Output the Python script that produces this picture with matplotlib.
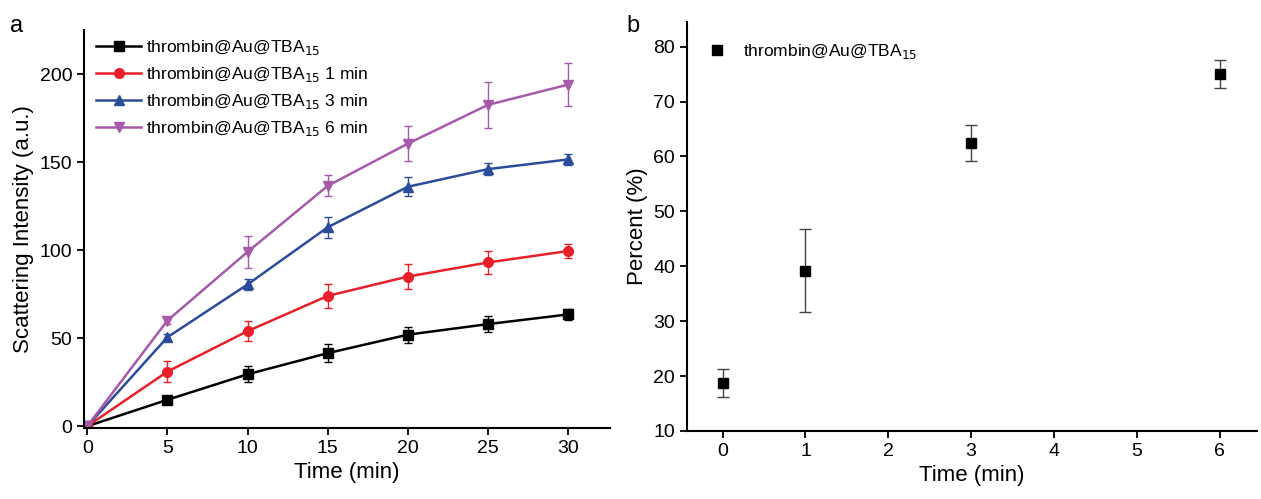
import matplotlib
matplotlib.use("Agg")
import matplotlib.pyplot as plt

plt.rcParams['font.family'] = ['Liberation Sans', 'DejaVu Sans']

# panel a data
time_a = [0, 5, 10, 15, 20, 25, 30]
black_y = [0, 15, 29.5, 41.5, 52, 58, 63.5]
black_err = [0, 2, 4.5, 5, 4.5, 4.5, 3]
red_y = [0, 31, 54, 74, 85, 93, 99.5]
red_err = [0, 6, 5.5, 7, 7, 6.5, 4]
blue_y = [0, 50.5, 80.5, 113, 136, 146, 151.5]
blue_err = [0, 2, 3, 6, 5.5, 3.5, 3]
purple_y = [0, 60, 99, 136.5, 160.5, 182.5, 194]
purple_err = [0, 2, 9, 6, 10, 13, 12]

# panel b data
time_b = [0, 1, 3, 6]
percent = [18.7, 39.2, 62.5, 75]
percent_err = [2.5, 7.5, 3.3, 2.5]

label = r'thrombin@Au@TBA$_{15}$'

fig = plt.figure(figsize=(12.61, 4.99), dpi=100)
ax1 = fig.add_axes([0.0666, 0.1423, 0.4171, 0.7976])
ax2 = fig.add_axes([0.5448, 0.1363, 0.452, 0.8197])

series = [
    (black_y, black_err, '#000000', 's', label),
    (red_y, red_err, '#e8202a', 'o', label + ' 1 min'),
    (blue_y, blue_err, '#2b4c9b', '^', label + ' 3 min'),
    (purple_y, purple_err, '#a75aaa', 'v', label + ' 6 min'),
]
for y, e, c, m, lab in series:
    ax1.errorbar(time_a, y, yerr=e, color=c, marker=m, markersize=7, lw=1.8,
                 ecolor=c, elinewidth=1, capsize=3, label=lab)

ax1.set_xlim(-0.2, 32.6)
ax1.set_ylim(-1, 225)
ax1.set_xticks([0, 5, 10, 15, 20, 25, 30])
ax1.set_yticks([0, 50, 100, 150, 200])
ax1.set_xlabel('Time (min)', fontsize=16)
ax1.set_ylabel('Scattering Intensity (a.u.)', fontsize=16)
handles, labels = ax1.get_legend_handles_labels()
ax1.legend([h[0] for h in handles], labels, loc='upper left', frameon=False,
           fontsize=12.5, handlelength=2.6, handletextpad=0.3,
           borderaxespad=0.3, labelspacing=0.45, bbox_to_anchor=(0.0, 1.01))

ax2.errorbar(time_b, percent, yerr=percent_err, fmt='s', color='black', markersize=7,
             ecolor='#444444', elinewidth=1, capsize=4, label=label)
ax2.set_xlim(-0.43, 6.45)
ax2.set_ylim(10, 84.5)
ax2.set_xticks([0, 1, 2, 3, 4, 5, 6])
ax2.set_yticks([10, 20, 30, 40, 50, 60, 70, 80])
ax2.set_xlabel('Time (min)', fontsize=16)
ax2.set_ylabel('Percent (%)', fontsize=16)
handles, labels = ax2.get_legend_handles_labels()
ax2.legend([h[0] for h in handles], labels, loc='upper left', frameon=False,
           fontsize=12.5, handlelength=1.0, handletextpad=1.0,
           bbox_to_anchor=(0.01, 0.99))

for ax in (ax1, ax2):
    ax.spines['top'].set_visible(False)
    ax.spines['right'].set_visible(False)
    ax.spines['left'].set_linewidth(1.5)
    ax.spines['bottom'].set_linewidth(1.5)
    ax.tick_params(direction='out', length=5, width=1.3, labelsize=14)

fig.text(0.008, 0.935, 'a', fontsize=17)
fig.text(0.497, 0.935, 'b', fontsize=17)

fig.savefig('out.png', dpi=100)
